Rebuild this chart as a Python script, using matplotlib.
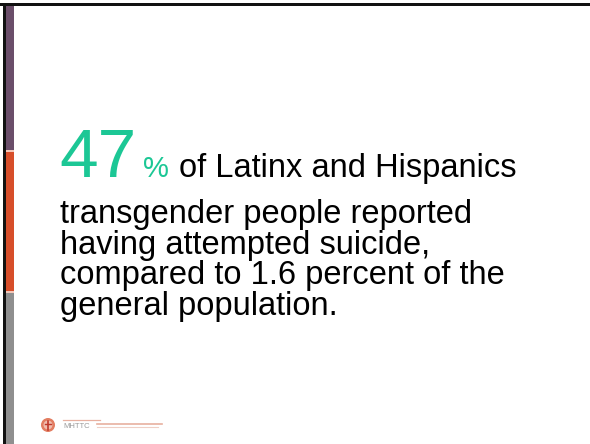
import matplotlib.pyplot as plt
from matplotlib.patches import Rectangle, Circle

# Slide content
big_number = "47"
percent_sign = "%"
first_line_rest = "of Latinx and Hispanics"
body_lines = [
    "transgender people reported",
    "having attempted suicide,",
    "compared to 1.6 percent of the",
    "general population.",
]
logo_text = "MHTTC"

# Side bar segments: (top px, bottom px, colour)
bar_segments = [
    (6, 151, "#6b4e6a"),
    (151, 292, "#d74e2a"),
    (292, 444, "#8f8f8f"),
]

W, H = 590, 444
fig = plt.figure(figsize=(W / 100, H / 100), dpi=100)
ax = fig.add_axes([0, 0, 1, 1])
ax.set_xlim(0, W)
ax.set_ylim(H, 0)
ax.axis("off")

# black frame on top and left
ax.add_patch(Rectangle((0, 3), W, 3.5, color="#111111", lw=0))
ax.add_patch(Rectangle((3, 3), 3, H, color="#111111", lw=0))

for top, bottom, col in bar_segments:
    ax.add_patch(Rectangle((6, top), 8, bottom - top, color=col, lw=0))
# thin light separators between segments
for top, _, _ in bar_segments[1:]:
    ax.add_patch(Rectangle((6, top - 1), 8, 1.5, color="#f4c7b8", lw=0))

green = "#1cc795"
font = "Liberation Sans"
base1 = 177

t = ax.text(59, base1, big_number, fontsize=50, color=green, family=font,
            va="baseline", ha="left")
fig.canvas.draw()
bb = t.get_window_extent().transformed(ax.transData.inverted())
t2 = ax.text(bb.x1 + 7, base1, percent_sign, fontsize=21, color=green,
             family=font, va="baseline", ha="left")
fig.canvas.draw()
bb = t2.get_window_extent().transformed(ax.transData.inverted())
ax.text(bb.x1 + 10, base1, first_line_rest, fontsize=23.5, color="black",
        family=font, va="baseline", ha="left")

y0 = 223
for i, line in enumerate(body_lines):
    ax.text(60, y0 + i * 30.5, line, fontsize=23.5, color="black",
            family=font, va="baseline", ha="left")

# small logo at bottom left
ax.add_patch(Circle((48, 425), 7, color="#d9512c", alpha=0.75, lw=0))
ax.add_patch(Circle((48, 425), 4.5, color="white", alpha=0.5, lw=0))
ax.plot([48, 48], [421, 430], color="#c0392b", lw=1.2)
ax.plot([45, 51], [423.5, 423.5], color="#c0392b", lw=1.0)
ax.text(63, 426, logo_text, fontsize=5.5, color="#9a9a9a", family=font,
        va="center", ha="left")
ax.plot([97, 162], [424, 424], color="#e8b0a0", lw=1.2)
ax.plot([97, 158], [427, 427], color="#efcfc5", lw=0.8)
ax.plot([63, 100], [420, 420], color="#e8b0a0", lw=0.9)

fig.savefig("out.png", dpi=100)
